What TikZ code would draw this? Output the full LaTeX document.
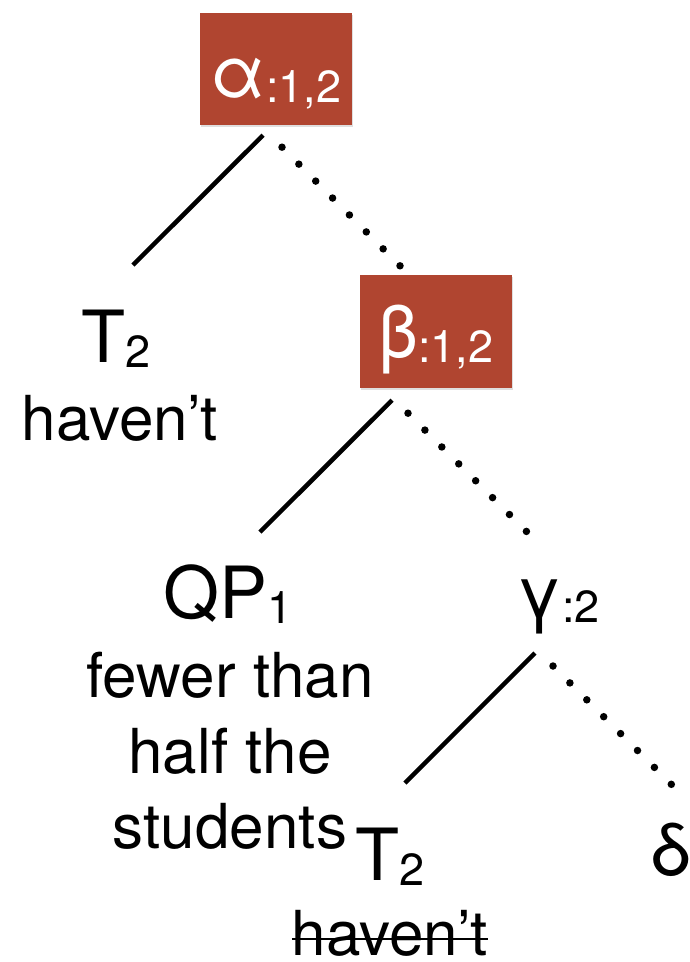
\documentclass[tikz,border=0pt]{standalone}
\usepackage{fontspec}
\setmainfont{TeX Gyre Heros}
\usepackage{tikz}
\usetikzlibrary{shadows}
\usepackage{xcolor}

\definecolor{boxred}{RGB}{176,69,48}
\newcommand{\catfont}{\fontsize{72}{80}\selectfont}
\newcommand{\wordfont}{\fontsize{62}{75}\selectfont}
\newcommand{\lbl}[1]{\raisebox{-5pt}{\fontsize{45}{50}\selectfont #1}}
\newsavebox{\strikebox}
\newcommand{\struck}[1]{\sbox{\strikebox}{#1}\rlap{\rule[15pt]{\wd\strikebox}{2.5pt}}\usebox{\strikebox}}

\begin{document}
\begin{tikzpicture}[
    x=1pt, y=-1pt,
    box/.style={rectangle, fill=boxred, text=white, inner sep=0pt, minimum width=152pt, anchor=base, font=\catfont, drop shadow={shadow xshift=1pt, shadow yshift=-2pt, opacity=0.25}},
    cat/.style={inner sep=0pt, anchor=base, font=\catfont},
    word/.style={inner sep=0pt, anchor=base, font=\wordfont},
    branch/.style={line width=4.5pt},
    dotbranch/.style={line width=7.5pt, line cap=round, dash pattern=on 0pt off 23.9pt}
]
\useasboundingbox (0,0) rectangle (689,962);

% Cajas
\node[box, text height=84pt, text depth=28pt] (alpha) at (276,97) {α\lbl{:1,2}};
\node[box, text height=82pt, text depth=31pt] (beta) at (436,357) {β\lbl{:1,2}};

% Hojas
\node[cat] (t2a) at (116,362) {T\lbl{2}};
\node[word] (hvna) at (120,440) {haven't};
\node[cat] (qp) at (228,618) {QP\lbl{1}};
\node[word] (fewer) at (230,697) {fewer than};
\node[word] (half) at (230,773) {half the};
\node[word] (stud) at (230,848) {students};
\node[cat] (gam) at (558,617) {γ\lbl{:2}};
\node[cat] (t2b) at (390,880) {T\lbl{2}};
\node[word] (hvnb) at (390,955) {\struck{haven't}};
\node[cat] (delta) at (671,875) {δ};

% Ramas
\draw[branch] ([xshift=-13pt,yshift=-10pt]alpha.south) -- ([xshift=17pt,yshift=97pt]t2a.base);
\draw[dotbranch] ([xshift=6pt,yshift=-22pt]alpha.south) -- ([xshift=-36pt,yshift=9pt]beta.north);
\draw[branch] ([xshift=-44pt,yshift=-12pt]beta.south) -- ([xshift=32pt,yshift=86pt]qp.base);
\draw[dotbranch] ([xshift=-28pt,yshift=-25pt]beta.south) -- ([xshift=-31pt,yshift=85pt]gam.base);
\draw[branch] ([xshift=-23pt,yshift=-36pt]gam.base) -- ([xshift=15pt,yshift=97pt]t2b.base);
\draw[dotbranch] ([xshift=-5pt,yshift=-49pt]gam.base) -- ([xshift=1pt,yshift=90pt]delta.base);

\end{tikzpicture}
\end{document}
